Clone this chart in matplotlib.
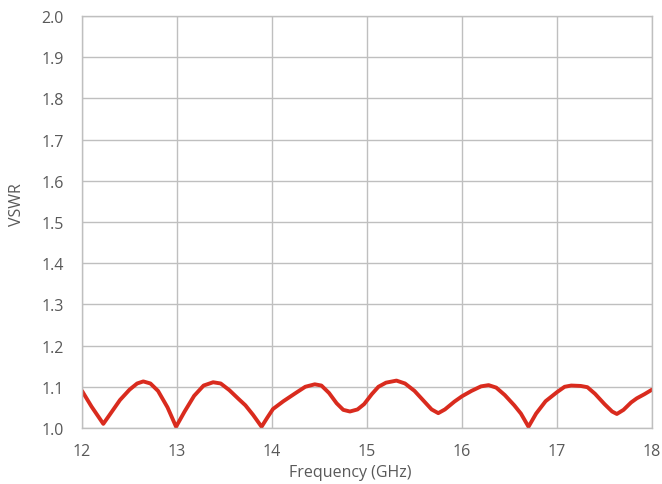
import matplotlib.pyplot as plt

# VSWR values
freq_ghz = [12.0, 12.1, 12.224, 12.3, 12.4, 12.5, 12.58, 12.645, 12.72, 12.8, 12.9, 12.99,
            13.08, 13.18, 13.28, 13.38, 13.46, 13.55, 13.65, 13.72, 13.80, 13.89, 13.95,
            14.01, 14.12, 14.25, 14.35, 14.45, 14.52, 14.6, 14.68, 14.75, 14.82, 14.9,
            14.97, 15.05, 15.12, 15.2, 15.31, 15.4, 15.5, 15.6, 15.68, 15.75, 15.82, 15.92,
            16.0, 16.1, 16.2, 16.28, 16.36, 16.45, 16.55, 16.62, 16.70, 16.78, 16.88, 17.0,
            17.08, 17.15, 17.25, 17.32, 17.4, 17.5, 17.58, 17.63, 17.7, 17.78, 17.84, 17.92, 18.0]
vswr = [1.090, 1.052, 1.010, 1.035, 1.068, 1.093, 1.108, 1.113, 1.108, 1.090, 1.050, 1.003,
        1.040, 1.078, 1.103, 1.111, 1.108, 1.092, 1.070, 1.055, 1.032, 1.003, 1.025,
        1.046, 1.065, 1.085, 1.100, 1.106, 1.103, 1.085, 1.060, 1.044, 1.040, 1.045,
        1.058, 1.082, 1.100, 1.110, 1.115, 1.108, 1.090, 1.065, 1.045, 1.036, 1.045, 1.064,
        1.077, 1.090, 1.101, 1.104, 1.098, 1.080, 1.055, 1.035, 1.003, 1.035, 1.065, 1.087,
        1.100, 1.103, 1.102, 1.099, 1.083, 1.058, 1.040, 1.034, 1.044, 1.062, 1.072, 1.082, 1.093]

x_ticks = [12, 13, 14, 15, 16, 17, 18]
y_ticks = [1.0, 1.1, 1.2, 1.3, 1.4, 1.5, 1.6, 1.7, 1.8, 1.9, 2.0]

plt.rcParams['font.family'] = ['Open Sans', 'DejaVu Sans']
text_color = '#595959'
grid_color = '#BFBFBF'

fig = plt.figure(figsize=(6.62, 4.85), dpi=100)
ax = fig.add_axes([0.1239, 0.1155, 0.861, 0.8495])

ax.plot(freq_ghz, vswr, color='#D92B1E', linewidth=2.8, solid_capstyle='round')

ax.set_xlim(12, 18)
ax.set_ylim(1.0, 2.0)
ax.set_xticks(x_ticks)
ax.set_yticks(y_ticks)
ax.set_yticklabels([f'{v:.1f}' for v in y_ticks])
ax.grid(True, color=grid_color, linewidth=1)
ax.set_axisbelow(True)
for s in ax.spines.values():
    s.set_color(grid_color)
    s.set_linewidth(1)
ax.tick_params(length=0, labelsize=11.5, colors=text_color)
ax.tick_params(axis='x', pad=11)
ax.tick_params(axis='y', pad=13)

ax.set_xlabel('Frequency (GHz)', fontsize=11.5, color=text_color, va='center')
ax.xaxis.set_label_coords(0.47, -0.107)
ax.set_ylabel('VSWR', fontsize=11.5, color=text_color, va='center')
ax.yaxis.set_label_coords(-0.114, 0.544)

fig.savefig('out.png', dpi=100)
